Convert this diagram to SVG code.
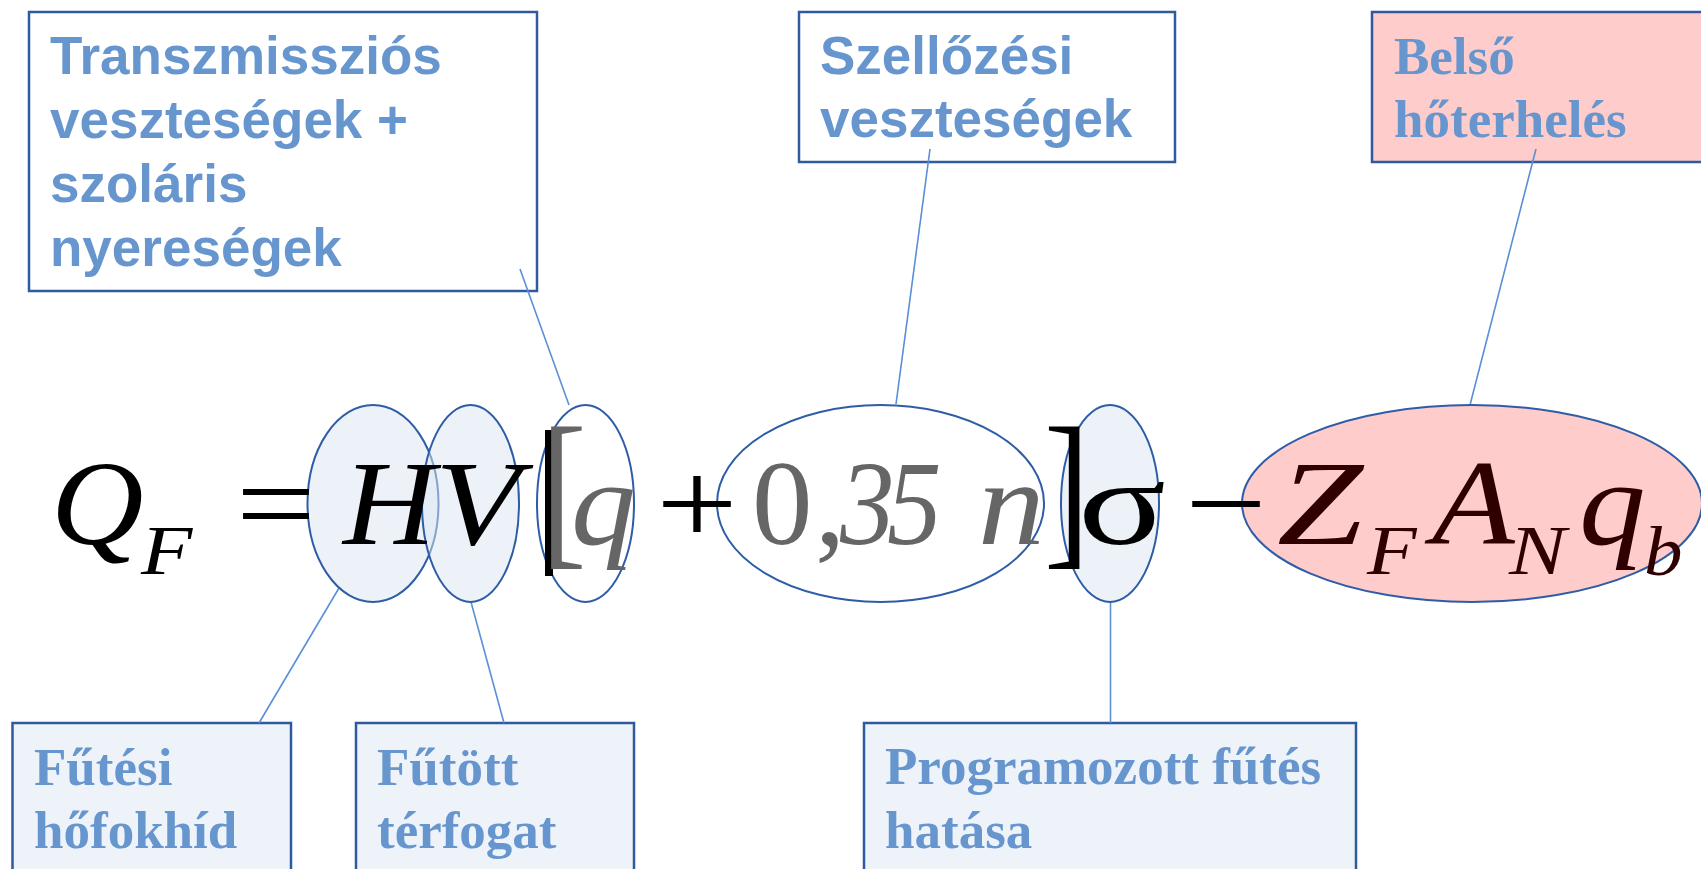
<svg xmlns="http://www.w3.org/2000/svg" width="1701" height="869" viewBox="0 0 1701 869">
<style>
.box{stroke:#2F5A9E;stroke-width:2.5}
.wb{fill:#FFFFFF}
.lb{fill:#EEF3FA}
.pk{fill:#FFCCCC}
.lsans{font-family:"Liberation Sans",Arial,sans-serif;font-weight:bold;font-size:53px;fill:#6796CE}
.lserif{font-family:"Liberation Serif","Times New Roman",serif;font-weight:bold;font-size:53px;fill:#6796CE}
.ell{stroke:#2E5DA6;stroke-width:2}
.m{font-family:"Liberation Serif","Times New Roman",serif;font-size:121px}
.i{font-style:italic}
.s{font-size:70px}
.b{font-size:171px}
.k{fill:#000000}
.g{fill:#666666}
.r{fill:#2E0000}
.conn line{stroke:#5B8FD6;stroke-width:1.6}
</style>

<g id="box-transzmisszios">
<rect class="box wb" x="29" y="12" width="508" height="279"/>
<text class="lsans"><tspan x="50" y="74">Transzmissziós</tspan><tspan x="50" y="138">veszteségek +</tspan><tspan x="50" y="202">szoláris</tspan><tspan x="50" y="266">nyereségek</tspan></text>
</g>
<g id="box-szellozesi">
<rect class="box wb" x="799" y="12" width="376" height="150"/>
<text class="lsans"><tspan x="820" y="74">Szellőzési</tspan><tspan x="820" y="137">veszteségek</tspan></text>
</g>
<g id="box-belso">
<rect class="box pk" x="1372" y="12" width="340" height="150"/>
<text class="lserif"><tspan x="1394" y="74">Belső</tspan><tspan x="1394" y="137">hőterhelés</tspan></text>
</g>
<g id="box-futesi">
<rect class="box lb" x="12.5" y="723" width="278.5" height="160"/>
<text class="lserif"><tspan x="34" y="785">Fűtési</tspan><tspan x="34" y="848">hőfokhíd</tspan></text>
</g>
<g id="box-futott">
<rect class="box lb" x="356" y="723" width="278" height="160"/>
<text class="lserif"><tspan x="377" y="785">Fűtött</tspan><tspan x="377" y="848">térfogat</tspan></text>
</g>
<g id="box-programozott">
<rect class="box lb" x="864" y="723" width="492" height="160"/>
<text class="lserif"><tspan x="885" y="784">Programozott fűtés</tspan><tspan x="885" y="848">hatása</tspan></text>
</g>

<g class="conn" id="connectors">
<line x1="520" y1="269" x2="569" y2="405"/>
<line x1="930" y1="149" x2="896" y2="404"/>
<line x1="1536" y1="149" x2="1470" y2="405"/>
<line x1="259" y1="723" x2="339" y2="588"/>
<line x1="504" y1="723" x2="471" y2="602"/>
<line x1="1110.5" y1="723" x2="1110.5" y2="602"/>
</g>

<g id="ell-H"><ellipse class="ell" cx="373" cy="503.5" rx="65.5" ry="98.5" fill="#DCE6F4" fill-opacity="0.5"/></g>
<g id="ell-V"><ellipse class="ell" cx="470.5" cy="503.5" rx="48.5" ry="98.5" fill="#DCE6F4" fill-opacity="0.5"/></g>
<g id="ell-q"><ellipse class="ell" cx="585.5" cy="503.5" rx="48.5" ry="98.5" fill="none"/></g>
<g id="ell-035n"><ellipse class="ell" cx="880.5" cy="503.5" rx="163.5" ry="98.5" fill="none"/></g>
<g id="ell-sigma"><ellipse class="ell" cx="1110" cy="503.5" rx="49" ry="98.5" fill="#DCE6F4" fill-opacity="0.5"/></g>
<g id="ell-ZAq"><ellipse class="ell pk" cx="1472" cy="503.5" rx="230" ry="98.5"/></g>

<g id="formula">
<text class="m i k" transform="translate(51,544) scale(1.06,1)">Q</text>
<text class="m i k s" transform="translate(141,574) scale(1.2,1)">F</text>
<text class="m k" transform="translate(236,544) scale(1.17,1)">=</text>
<text class="m i k" transform="translate(343,544) scale(1.06,1)">H</text>
<text class="m i k" transform="translate(435,544) scale(1.15,1)">V</text>
<rect x="545" y="430" width="8" height="146" fill="#000000"/>
<text class="m g b" transform="translate(541,546) scale(0.8,1)">[</text>
<text class="m i g" transform="translate(571,544) scale(1.07,1)">q</text>
<text class="m k" transform="translate(656,544) scale(1.2,1)">+</text>
<text class="m g" x="752" y="544">0</text>
<text class="m g" x="815" y="544">,</text>
<text class="m i g" transform="translate(840,544) scale(0.9,1)">3</text>
<text class="m i g" transform="translate(887,544) scale(0.9,1)">5</text>
<text class="m i g" transform="translate(978,544) scale(1.1,1)">n</text>
<text class="m k b" transform="translate(1044,546) scale(0.8,1)">]</text>
<text class="m k" transform="translate(1078,544) scale(1.35,1)">σ</text>
<text class="m k" transform="translate(1185,544) scale(1.2,1)">−</text>
<text class="m i r" transform="translate(1277,544) scale(1.28,1)">Z</text>
<text class="m i r s" transform="translate(1367,574) scale(1.16,1)">F</text>
<text class="m i r" transform="translate(1432,544) scale(1.12,1)">A</text>
<text class="m i r s" transform="translate(1509,574) scale(1.22,1)">N</text>
<text class="m i r" transform="translate(1579,544) scale(1.1,1)">q</text>
<text class="m i r s" transform="translate(1644,575) scale(1.1,1)">b</text>
</g>
</svg>
